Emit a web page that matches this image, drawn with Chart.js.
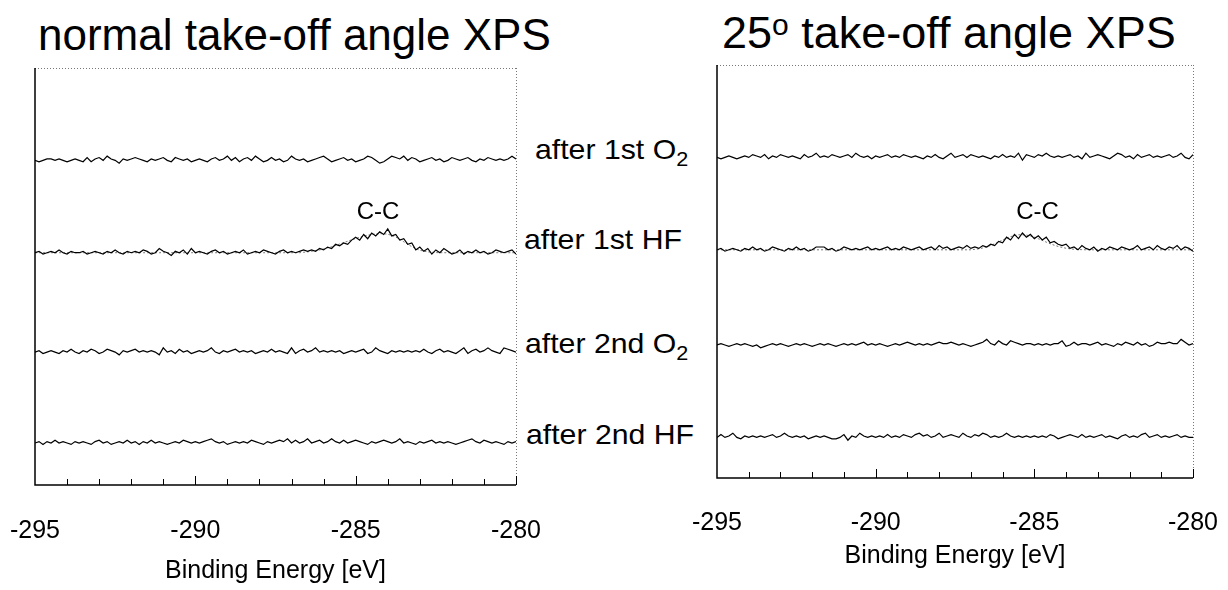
<!DOCTYPE html>
<html>
<head>
<meta charset="utf-8">
<script src="https://cdn.jsdelivr.net/npm/chart.js@4.4.1/dist/chart.umd.min.js"></script>
<style>
  html, body { margin:0; padding:0; background:#fff; }
  body { width:1228px; height:590px; position:relative; overflow:hidden; font-family:"Liberation Sans", Arial, Helvetica, sans-serif; color:#000; }
  .cv { position:absolute; top:0; width:614px; height:590px; }
  .t { position:absolute; white-space:nowrap; line-height:1; }
  .title { font-size:44px; }
  .lab { font-size:28px; transform:scaleX(1.08); transform-origin:0 0; }
  .lab sub { font-size:20px; vertical-align:-7px; line-height:0; }
  .title sup { font-size:30px; vertical-align:13px; line-height:0; }
</style>
</head>
<body>
<div class="t title" style="left:38px;top:13px;">normal take-off angle XPS</div>
<div class="t title" style="left:722px;top:10px;font-size:45px;">25<sup>o</sup> take-off angle XPS</div>
<div class="t lab" style="left:535px;top:136px;">after 1st O<sub>2</sub></div>
<div class="t lab" style="left:524px;top:226px;">after 1st HF</div>
<div class="t lab" style="left:525px;top:330px;">after 2nd O<sub>2</sub></div>
<div class="t lab" style="left:526px;top:421px;">after 2nd HF</div>
<canvas id="cL" class="cv" style="left:0px" width="614" height="590"></canvas>
<canvas id="cR" class="cv" style="left:614px" width="614" height="590"></canvas>
<script>
// ---- Data (binding energy grid, eV) ----
const energies = [
-295,-294.875,-294.75,-294.625,-294.5,-294.375,-294.25,-294.125,
-294,-293.875,-293.75,-293.625,-293.5,-293.375,-293.25,-293.125,
-293,-292.875,-292.75,-292.625,-292.5,-292.375,-292.25,-292.125,
-292,-291.875,-291.75,-291.625,-291.5,-291.375,-291.25,-291.125,
-291,-290.875,-290.75,-290.625,-290.5,-290.375,-290.25,-290.125,
-290,-289.875,-289.75,-289.625,-289.5,-289.375,-289.25,-289.125,
-289,-288.875,-288.75,-288.625,-288.5,-288.375,-288.25,-288.125,
-288,-287.875,-287.75,-287.625,-287.5,-287.375,-287.25,-287.125,
-287,-286.875,-286.75,-286.625,-286.5,-286.375,-286.25,-286.125,
-286,-285.875,-285.75,-285.625,-285.5,-285.375,-285.25,-285.125,
-285,-284.875,-284.75,-284.625,-284.5,-284.375,-284.25,-284.125,
-284,-283.875,-283.75,-283.625,-283.5,-283.375,-283.25,-283.125,
-283,-282.875,-282.75,-282.625,-282.5,-282.375,-282.25,-282.125,
-282,-281.875,-281.75,-281.625,-281.5,-281.375,-281.25,-281.125,
-281,-280.875,-280.75,-280.625,-280.5,-280.375,-280.25,-280.125,
-280];

const tickLabels = [-295, -290, -285, -280];
const traceNames = ["after 1st O2", "after 1st HF", "after 2nd O2", "after 2nd HF"];

// Normal take-off angle: C 1s intensity (arb. units)
const normal1stO2 = [
 0,-1, 0, 1, 1, 0, 1, 0,-1, 0,
 1, 0,-1, 2,-1, 1, 2, 0, 3, 1,
 0,-2, 1, 0, 1, 2, 1, 0,-1, 1,
 0, 1, 2, 0,-1, 2, 1, 0, 1,-1,
 0, 1, 0,-1, 1, 2, 0, 1, 3, 0,
 2,-1, 1, 2, 0, 3, 1,-1, 0, 2,
 0, 1,-1, 0, 3, 1, 0, 1,-1, 0,
 1, 2, 3, 1,-1, 0, 1, 2, 0, 1,
-1, 0, 1, 3, 2, 0,-2,-1, 1, 3,
 2, 1, 3, 0, 2, 1,-1, 0, 1, 2,
 0, 1,-1, 0, 2, 1, 0, 1, 2, 0,
-1, 1, 0, 2, 1, 0, 1, 0, 1, 3,
 1];
const normal1stHF = [
 0, 1,-1, 0, 1, 0, 2, 0,-1, 1,
 0, 0, 1,-1, 0, 1, 0,-1, 1, 0,
 2, 0,-1, 1, 0, 1, 0, 2, 1,-1,
 0, 3, 1, 0,-2, 1, 0, 2,-1, 3,
 0, 1, 0,-1, 1, 2, 0, 1,-1, 0,
 1, 0, 2,-1, 0, 1, 0, 2, 1, 0,
-1, 1, 2, 0, 1, 0, 1, 2, 1, 2,
 1, 3, 2, 4, 3, 6, 5, 7, 6, 9,
11, 9,13,10,14,12,15,13,17,12,
13, 9,10, 6, 7, 2, 4, 1, 3,-1,
 2, 0, 3, 1,-1, 0, 2,-1, 1, 0,
 2, 0, 1,-1, 0, 2, 1, 0, 1, 2,
-1];
const normal1stHFfit = [
 0,0,0,0,0,0,0,0,0,0,
 0,0,0,0,0,0,0,0,0,0,
 0,0,0,0,0,0,0,0,0,0,
 0,0,0,0,0,0,0,0,0,0,
 0,0,0,0,0,0,0,0,0,0,
 0,0,0,0,0,0,0,0,0,0,
 0,0,0,0,0,0,0,0.3,0.6,1,
 1.5,2,2.7,3.5,4.3,5.2,6.2,7.2,8.2,9.2,
 10.1,11,11.8,12.5,13,13.4,13.6,13.6,13.2,12.4,
 11.2,9.6,7.8,6,4.3,2.9,1.8,1.1,0.6,0.3,
 0.1,0,0,0,0,0,0,0,0,0,
 0,0,0,0,0,0,0,0,0,0,
 0];
const normal2ndO2 = [
 0, 1,-1, 0, 1, 0,-1, 1, 0, 2,
 0,-1, 1, 0, 2, 1,-1, 0, 2, 1,
 0,-2, 1, 0, 1, 2, 0, 1, 0, 1,
 0,-2, 3, 0, 1,-1, 2, 0, 1,-1,
 0, 1, 0, 1, 3, 0,-1, 1, 0, 1,
 2, 0, 1, 0, 1,-1, 0, 1, 0, 2,
 0, 1, 0,-1, 3,-1, 1, 2, 0, 1,
 3, 0, 1, 0, 1, 0, 1,-1, 0, 1,
 0, 1, 2,-1, 0, 3, 1, 0,-1, 1,
 0, 1, 0, 1, 0, 1, 0, 2, 0,-1,
 1, 2, 0, 1, 0,-1, 1, 3,-1, 1,
 2, 0, 1, 3, 1, 0,-1, 3, 2, 1,
 0];
const normal2ndHF = [
 0, 1,-1, 1, 0, 2, 0, 1, 0,-1,
 1, 0, 1, 0,-1, 1, 2, 0, 1,-1,
 0, 1, 0, 2, 0, 1,-1, 1, 0, 2,
 0, 1, 0,-1, 0, 1, 0, 2, 1, 0,
 1, 0, 1, 2, 3, 1, 0, 1,-1, 0,
 1, 0, 1, 0, 2, 1, 0,-1, 1, 0,
 1, 2, 1, 3, 0, 2, 0, 1, 3, 0,
 1, 2, 0, 1, 3, 1, 0, 2, 0, 1,
 2, 1, 0,-1, 1, 0, 1, 2, 1, 0,
 1, 3, 0, 1, 0,-1, 1, 0, 1, 2,
 0, 1, 0, 1, 0,-1, 0, 1, 2, 3,
 1, 0, 2, 1, 0, 1, 0,-1, 1, 0,
 1];

// 25 deg take-off angle
const grazing1stO2 = [
 0,-1, 0, 1, 0,-1, 0, 1, 0, 2,
 1, 0, 2,-1, 1, 0, 2, 1, 0, 1,
 0,-1, 2, 0, 1, 3, 0, 1, 0, 2,
 1, 0, 1, 2, 0, 3, 1, 0, 1,-1,
 1, 0, 1, 2, 0, 1, 0, 2, 1, 0,
 1, 0,-1, 1, 0, 2, 0,-1, 1, 3,
 0, 1, 2, 0, 2, 1, 0, 1, 0,-1,
 1, 0, 2, 0, 1, 0, 3,-2, 2, 1,
 0, 2, 1, 3, 1, 0, 1, 0, 1, 2,
 0, 1,-1, 3, 0, 1, 2, 1, 0,-1,
 1, 3, 2, 0, 1,-1, 2, 0, 1, 2,
 0, 1, 0, 1, 2, 0, 1, 3, 0,-1,
 2];
const grazing1stHF = [
 0, 1,-1, 0, 1, 0,-1, 1, 0, 2,
 0, 1,-1, 0, 2, 1, 0,-1, 1, 0,
 2, 0, 1,-1, 0, 2, 2, 2, 0, 1,
-1, 0, 2, 1, 0, 1, 0, 1, 2, 0,
 1, 0, 1, 2, 0, 1, 0, 2, 1, 0,
 1, 2, 0, 1, 2, 0, 3, 1, 2, 0,
 1, 2, 1, 3, 1, 2, 1, 3, 2, 4,
 3, 6, 5, 9, 7,11, 8,12, 9,11,
 8,10, 7, 9, 5, 6, 4, 3, 4, 1,
 2, 0, 3, 1, 0, 2,-1, 1, 0, 2,
 1, 0, 2, 1, 0, 1, 3, 0, 1, 2,
 0, 3, 1, 0, 2, 1, 3, 0, 2, 1,
-1];
const grazing1stHFfit = [
 0,0,0,0,0,0,0,0,0,0,
 0,0,0,0,0,0,0,0,0,0,
 0,0,0,0,0,0,0,0,0,0,
 0,0,0,0,0,0,0,0,0,0,
 0,0,0,0,0,0,0,0,0,0,
 0,0,0,0,0,0,0,0,0,0,
 0,0,0,0,0,0.3,0.7,1.3,2.1,3.1,
 4.3,5.6,7,8.3,9.4,10.2,10.7,10.8,10.5,9.9,
 9,7.9,6.7,5.5,4.3,3.3,2.4,1.7,1.1,0.7,
 0.4,0.2,0.1,0,0,0,0,0,0,0,
 0,0,0,0,0,0,0,0,0,0,
 0,0,0,0,0,0,0,0,0,0,
 0];
const grazing2ndO2 = [
 0, 1, 0,-1, 0, 1, 0, 1, 0,-1,
 0,-2,-1, 0, 1, 0, 1, 0,-1, 0,
 1, 0, 1, 0,-1, 0, 1, 0, 1, 0,
-1, 0, 1, 0, 1, 0, 1, 2, 0, 1,
 0, 1, 0,-1, 0, 1, 0, 1, 2, 1,
 0, 1, 0, 1, 0, 1, 2, 1, 1, 2,
 1, 0, 1, 0,-1, 0, 1, 2, 4, 1,
 0, 3, 1, 0, 3, 2, 1, 0, 1, 1,
 0, 1, 0, 1, 0, 1, 1, 3,-1, 0,
 2, 0, 1, 1, 0, 1, 2, 0, 1, 0,
-1, 1, 0, 2, 1, 0, 2, 0, 1,-1,
 0, 2, 1, 1, 2, 1, 1, 4, 2, 0,
 1];
const grazing2ndHF = [
 0, 2, 0, 1, 3, 0,-1, 1, 0, 1,
 0, 1, 0, 1, 2, 0, 1, 3, 1, 0,
 1, 0, 1,-1, 0, 1, 0, 1, 0,-1,
-1, 0, 2,-2, 1, 0, 3, 1, 0, 1,
 0, 1, 0, 2, 0, 1, 0, 2, 1, 0,
 2, 3, 1, 2, 0, 1, 3, 0, 1, 2,
 1, 0, 3, 1, 0, 2, 1, 3, 2, 0,
 1, 0, 1, 3, 1, 0, 1, 0, 1, 0,
 1, 0, 1, 0, 2, 1,-1, 0, 1, 2,
 1, 0, 2, 0, 1, 0, 1, 2, 0, 1,
 0,-1, 1, 2, 0, 1, 0, 2, 3, 0,
 1, 2, 0, 1, 0, 1, 2, 0, 1, 0,
 0];

// vertical offsets used to stack the spectra (arb. units)
const normalStack  = [232, 166, 95, 30];
const grazingStack = [229, 163, 95, 29];
const ccEnergies = [-284.3, -284.9];   // C-C peak annotation
const ccLevels = [195, 190];

// ---- Chart helpers ----
function series(vals, off) {
  return energies.map((e, i) => ({ x: e, y: off + vals[i] }));
}

const xpsFrame = {
  id: 'xpsFrame',
  afterDraw(chart) {
    const o = chart.options.plugins.xpsFrame;
    const { ctx, chartArea: a } = chart;
    const xs = chart.scales.x, ys = chart.scales.y;
    ctx.save();
    ctx.strokeStyle = '#777';
    ctx.lineWidth = 1;
    ctx.setLineDash([1, 2]);
    ctx.beginPath();
    ctx.moveTo(a.left, a.top + 0.5); ctx.lineTo(a.right, a.top + 0.5);
    ctx.moveTo(a.right + 0.5, a.top); ctx.lineTo(a.right + 0.5, a.bottom);
    ctx.stroke();
    ctx.setLineDash([]);
    ctx.strokeStyle = '#000';
    ctx.lineWidth = 1.5;
    ctx.beginPath();
    ctx.moveTo(a.left, a.top); ctx.lineTo(a.left, a.bottom);
    ctx.lineTo(a.right, a.bottom);
    ctx.stroke();
    ctx.lineWidth = 1;
    ctx.beginPath();
    for (let e = xs.min + 1; e <= xs.max; e++) {
      const px = Math.round(xs.getPixelForValue(e)) + 0.5;
      const len = (e % 5 === 0) ? 9 : 6;
      ctx.moveTo(px, a.bottom); ctx.lineTo(px, a.bottom - len);
    }
    ctx.stroke();
    ctx.fillStyle = '#000';
    ctx.font = '24px "Liberation Sans", Arial, sans-serif';
    ctx.textAlign = 'center';
    ctx.textBaseline = 'middle';
    ctx.fillText('C-C', xs.getPixelForValue(o.ccE), ys.getPixelForValue(o.ccY));
    ctx.restore();
  }
};

function makeChart(id, stack, traces, fit, ymax, pad, tickGap, titlePad, axisH, ccE, ccY) {
  const datasets = [];
  datasets.push({
    label: 'fit', data: series(fit, stack[1]),
    borderColor: '#777', borderWidth: 1, borderDash: [2, 2],
    pointRadius: 0, tension: 0, order: 2
  });
  traces.forEach((t, k) => datasets.push({
    label: traceNames[k], data: series(t, stack[k]),
    borderColor: '#000', borderWidth: 1.2, pointRadius: 0, tension: 0, order: 1
  }));
  return new Chart(document.getElementById(id), {
    type: 'line',
    data: { datasets },
    plugins: [xpsFrame],
    options: {
      responsive: false, animation: false, events: [],
      layout: { padding: pad },
      plugins: { legend: { display: false }, tooltip: { enabled: false },
                 xpsFrame: { ccE, ccY } },
      scales: {
        x: {
          type: 'linear', min: -295, max: -280,
          grid: { display: true, drawOnChartArea: false, drawTicks: true,
                  tickLength: tickGap, tickColor: 'rgba(0,0,0,0)' },
          border: { display: false },
          afterBuildTicks: s => { s.ticks = tickLabels.map(v => ({ value: v })); },
          afterFit: s => { s.height = axisH; },
          ticks: { padding: 0, color: '#000', maxRotation: 0, autoSkip: false,
                   font: { family: '"Liberation Sans", Arial, sans-serif', size: 25 },
                   callback: v => String(v) },
          title: { display: true, text: 'Binding Energy [eV]', color: '#000',
                   padding: { top: 0, bottom: titlePad },
                   font: { family: '"Liberation Sans", Arial, sans-serif', size: 25 } }
        },
        y: { type: 'linear', display: false, min: 0, max: ymax }
      }
    }
  });
}

makeChart('cL', normalStack, [normal1stO2, normal1stHF, normal2ndO2, normal2ndHF],
  normal1stHFfit, 298, { left: 35, right: 98, top: 68, bottom: 0 }, 31, 4, 105,
  ccEnergies[0], ccLevels[0]);
makeChart('cR', grazingStack, [grazing1stO2, grazing1stHF, grazing2ndO2, grazing2ndHF],
  grazing1stHFfit, 295, { left: 103, right: 35, top: 65, bottom: 0 }, 30, 19, 112,
  ccEnergies[1], ccLevels[1]);
</script>
</body>
</html>
